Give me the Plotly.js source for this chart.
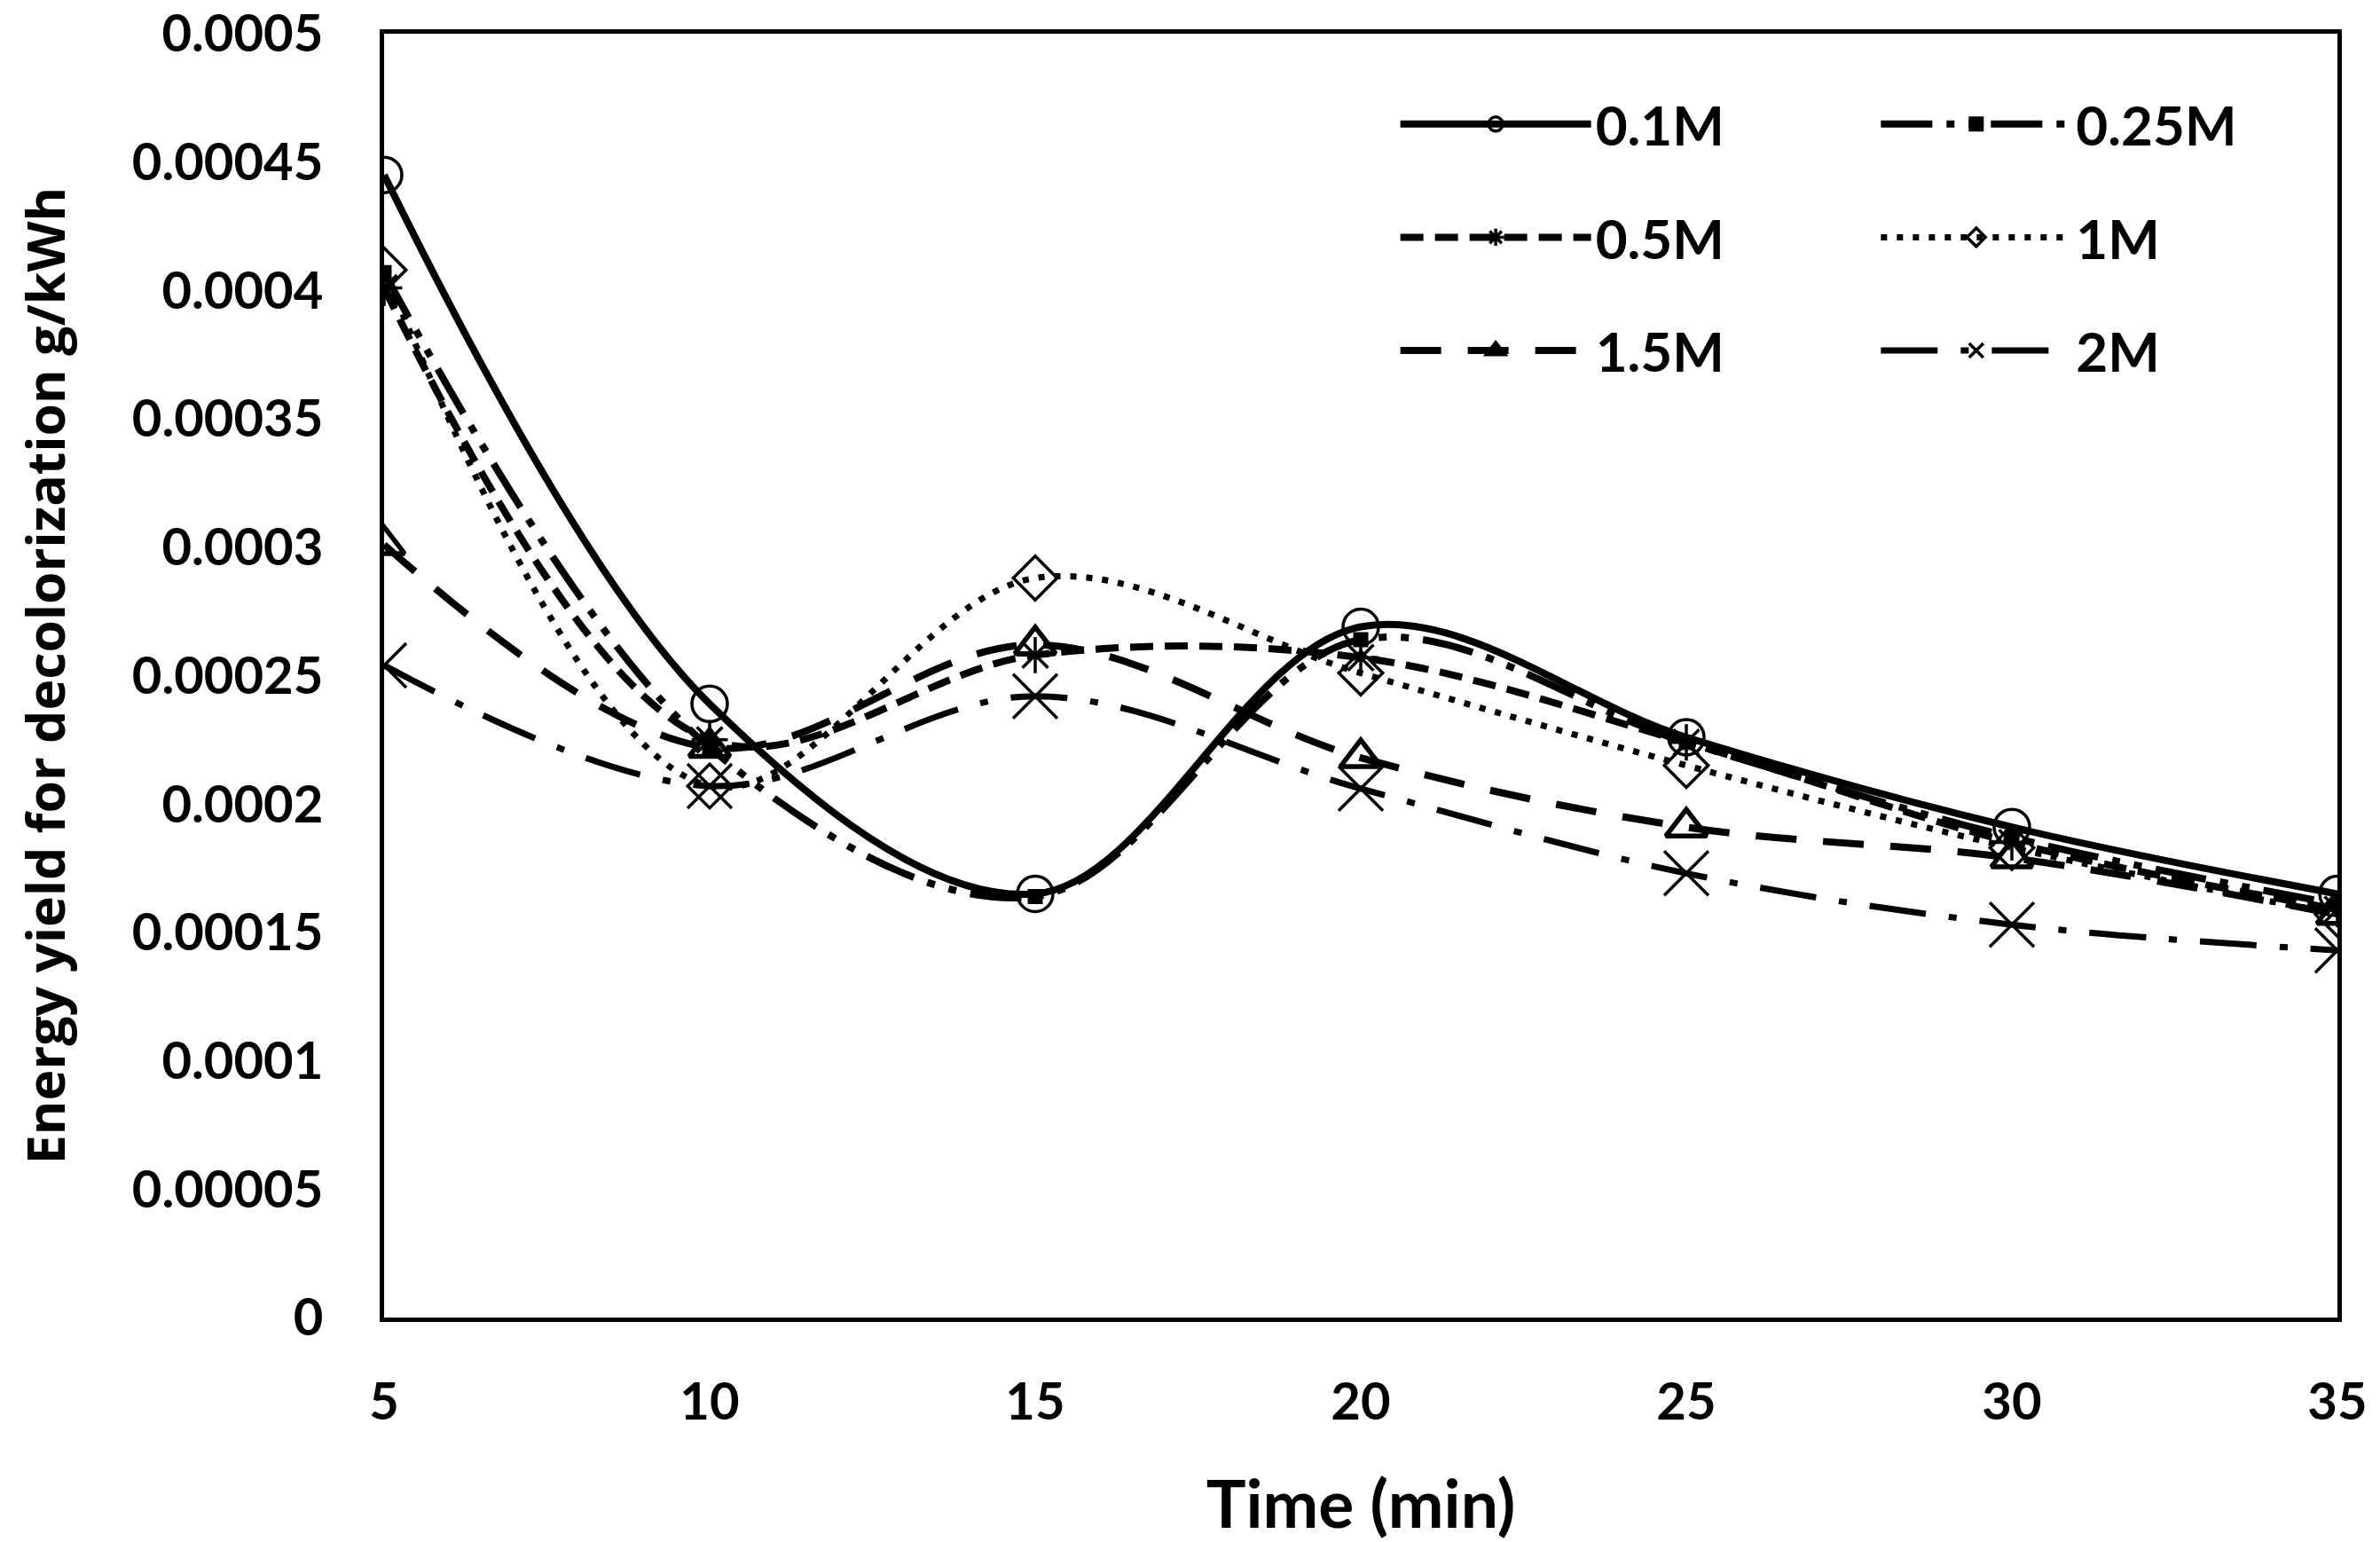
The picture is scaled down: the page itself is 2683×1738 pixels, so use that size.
<!DOCTYPE html>
<html>
<head>
<meta charset="utf-8">
<script src="https://cdn.plot.ly/plotly-3.0.1.min.js"></script>
<style>
  html, body { margin: 0; padding: 0; background: #fff; }
  #myPlot { width: 2683px; height: 1738px; }
</style>
</head>
<body>
<div id="myPlot"></div>
<script>
// time axis (min)
let time = [5, 10, 15, 20, 25, 30, 35];

// energy yield for decolorization, g/kWh
let m01  = [0.000445, 0.000239, 0.000165, 0.000269, 0.000226, 0.000191, 0.000165];
let m025 = [0.000407, 0.000222, 0.000164, 0.000264, 0.000224, 0.000187, 0.000161];
let m05  = [0.000401, 0.000225, 0.000258, 0.000257, 0.000224, 0.000185, 0.000159];
let m1   = [0.000408, 0.000207, 0.000288, 0.000251, 0.000215, 0.000183, 0.000157];
let m15  = [0.000301, 0.000222, 0.000262, 0.000218, 0.000191, 0.000179, 0.000157];
let m2   = [0.000254, 0.000207, 0.000242, 0.000206, 0.000173, 0.000153, 0.000143];

let names = ['0.1M', '0.25M', '0.5M', '1M', '1.5M', '2M'];
let yTicks = [0, 0.00005, 0.0001, 0.00015, 0.0002, 0.00025, 0.0003, 0.00035, 0.0004, 0.00045, 0.0005];
let yTickText = ['0', '0.00005', '0.0001', '0.00015', '0.0002', '0.00025', '0.0003', '0.00035', '0.0004', '0.00045', '0.0005'];

function mkTrace(y, i, dash, width, symbol, msize, mline, legend) {
  return {
    x: time,
    y: y,
    name: names[i],
    legend: legend,
    legendgroup: names[i],
    type: 'scatter',
    mode: 'lines+markers',
    line: { color: '#000', width: width, dash: dash, shape: 'spline', smoothing: 1 },
    marker: { symbol: symbol, size: msize, color: '#000', line: { color: '#000', width: mline } }
  };
}

var trace1 = mkTrace(m01, 0, 'solid', 8, 'circle-open', 40, 3.5, 'legend');
var trace2 = mkTrace(m025, 1, '58px,16px,9px,16px,9px,16px', 8, 'square', 15, 2, 'legend2');
var trace3 = mkTrace(m05, 2, '26px,13px', 8, 'asterisk-open', 34, 3.5, 'legend');
var trace4 = mkTrace(m1, 3, '7px,11px', 7, 'diamond-open', 38, 3.5, 'legend2');
var trace5 = mkTrace(m15, 4, '46px,30px', 8, 'triangle-up-open', 40, 5.5, 'legend');
var trace6 = mkTrace(m2, 5, '64px,26px,9px,26px', 7, 'x-thin-open', 50, 3.5, 'legend2');

var data = [trace1, trace2, trace3, trace4, trace5, trace6];

var tickFont = { family: 'Lato, "Open Sans", sans-serif', size: 58, color: '#000', weight: 'bold' };

var legendBase = {
  orientation: 'v',
  bgcolor: 'rgba(0,0,0,0)',
  borderwidth: 0,
  font: { family: 'Lato, "Open Sans", sans-serif', size: 62, color: '#000', weight: 'bold' },
  itemwidth: 215,
  tracegroupgap: 44,
  xanchor: 'left',
  yanchor: 'top'
};

var layout = {
  width: 2683,
  height: 1738,
  paper_bgcolor: '#fff',
  plot_bgcolor: '#fff',
  showlegend: true,
  margin: { l: 433, r: 48, t: 38, b: 253 },
  xaxis: {
    range: [5, 35],
    tickvals: time,
    ticks: '',
    showgrid: false,
    zeroline: false,
    showline: true,
    mirror: true,
    linecolor: '#000',
    linewidth: 5,
    tickfont: tickFont,
    ticklabelstandoff: 40,
    title: {
      text: 'Time (min)',
      font: { family: 'Lato, "Open Sans", sans-serif', size: 75, color: '#000', weight: 'bold' },
      standoff: 95
    }
  },
  yaxis: {
    range: [0, 0.0005],
    tickvals: yTicks,
    ticktext: yTickText,
    ticks: '',
    showgrid: false,
    zeroline: false,
    showline: true,
    mirror: true,
    linecolor: '#000',
    linewidth: 5,
    tickfont: tickFont,
    ticklabelstandoff: 52,
    title: {
      text: 'Energy yield for decolorization g/kWh',
      font: { family: '"Open Sans", sans-serif', size: 59, color: '#000', weight: 'bold' },
      standoff: 58
    }
  },
  legend: Object.assign({}, legendBase, { x: 0.518, y: 0.962 }),
  legend2: Object.assign({}, legendBase, { x: 0.764, y: 0.962 })
};

Plotly.newPlot('myPlot', data, layout, { staticPlot: true });
</script>
</body>
</html>
